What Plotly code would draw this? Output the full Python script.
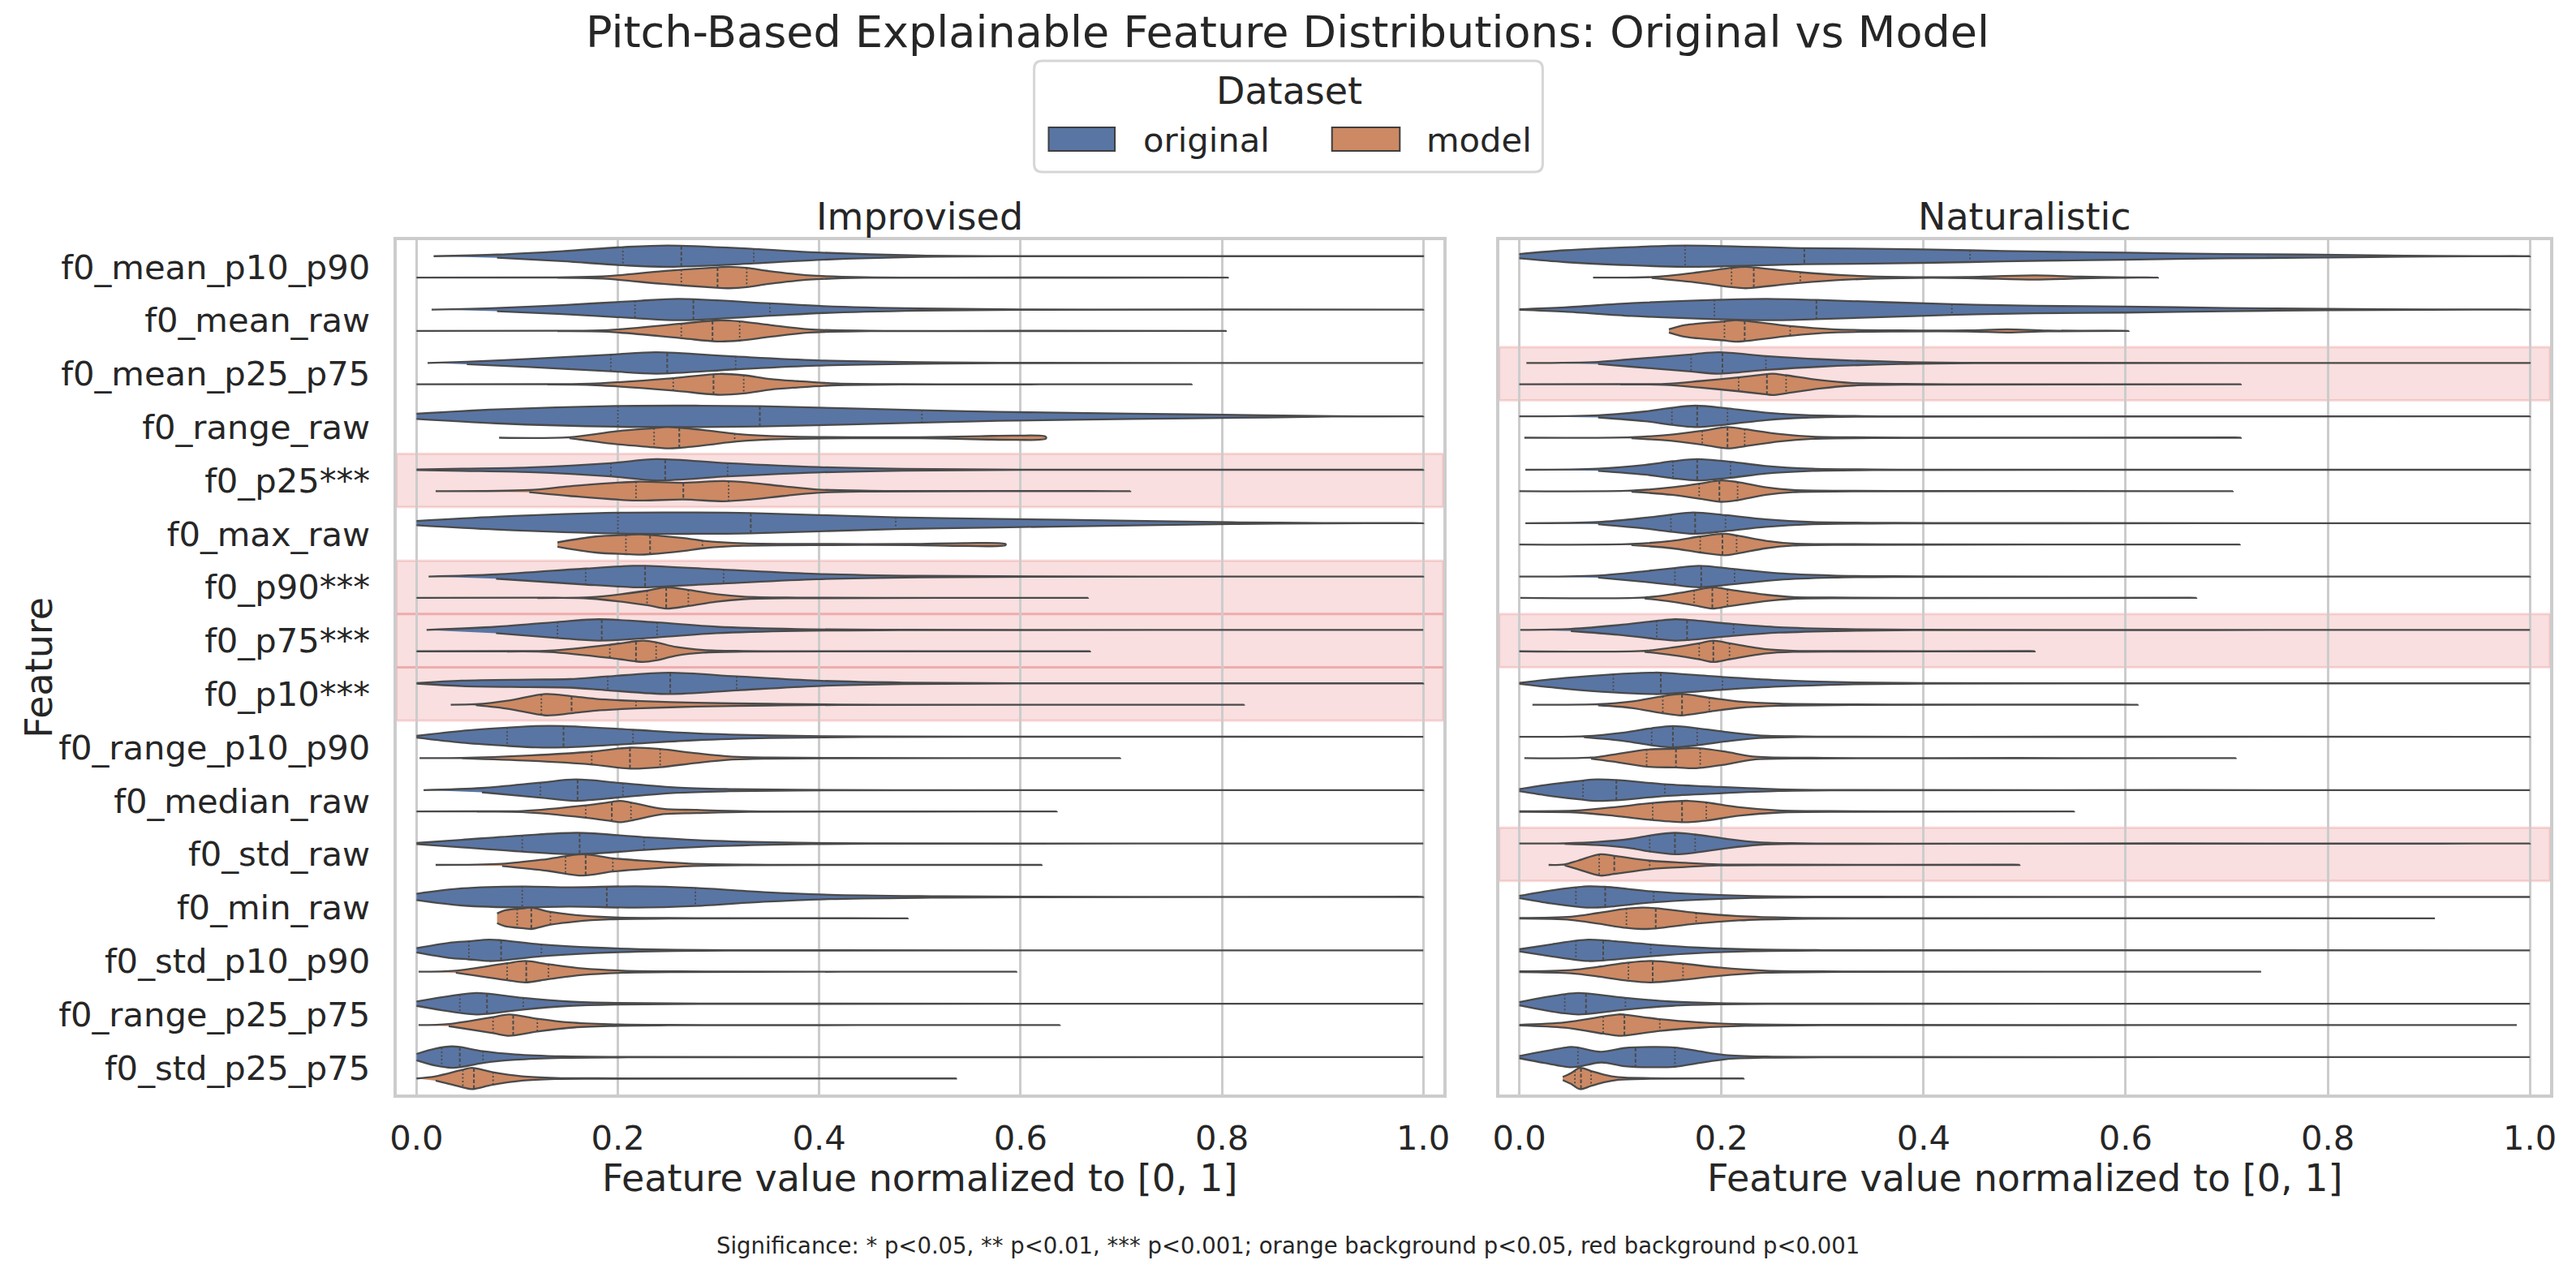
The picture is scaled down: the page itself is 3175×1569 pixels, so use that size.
import numpy as np
import plotly.graph_objects as go

# ---------------- data ----------------
FEATURES = ["f0_mean_p10_p90", "f0_mean_raw", "f0_mean_p25_p75", "f0_range_raw",
            "f0_p25***", "f0_max_raw", "f0_p90***", "f0_p75***", "f0_p10***",
            "f0_range_p10_p90", "f0_median_raw", "f0_std_raw", "f0_min_raw",
            "f0_std_p10_p90", "f0_range_p25_p75", "f0_std_p25_p75"]

# rows with p<0.001 background (index into FEATURES)
SIG_ROWS_IMPROVISED = [4, 6, 7, 8]
SIG_ROWS_NATURALISTIC = [2, 7, 11]

X_TICKS = [0.0, 0.2, 0.4, 0.6, 0.8, 1.0]
X_TICK_LABELS = ["0.0", "0.2", "0.4", "0.6", "0.8", "1.0"]

# Violin outlines: knot positions (x) and relative half widths (w)
# plus quartiles [q1, median, q3]
IMP_ORIG_X = [
    [0.017, 0.08, 0.145, 0.205, 0.25, 0.335, 0.398, 0.5, 0.6, 1.0],
    [0.015, 0.08, 0.145, 0.217, 0.26, 0.351, 0.405, 0.5, 0.6, 1.0],
    [0.011, 0.05, 0.112, 0.193, 0.238, 0.317, 0.398, 0.5, 0.58, 1.0],
    [0.0, 0.079, 0.198, 0.278, 0.341, 0.502, 0.578, 0.711, 0.844, 0.91, 1.0],
    [0.0, 0.045, 0.112, 0.193, 0.238, 0.309, 0.398, 0.484, 0.6, 1.0],
    [0.0, 0.079, 0.2, 0.278, 0.332, 0.476, 0.578, 0.711, 0.81, 0.9, 1.0],
    [0.012, 0.079, 0.168, 0.215, 0.227, 0.305, 0.398, 0.5, 0.62, 1.0],
    [0.01, 0.079, 0.14, 0.181, 0.239, 0.298, 0.378, 0.48, 1.0],
    [0.0, 0.045, 0.112, 0.152, 0.19, 0.251, 0.318, 0.398, 0.484, 0.6, 1.0],
    [0.0, 0.045, 0.09, 0.118, 0.146, 0.215, 0.278, 0.351, 0.444, 0.55, 1.0],
    [0.007, 0.065, 0.123, 0.158, 0.205, 0.258, 0.311, 0.378, 1.0],
    [0.0, 0.045, 0.105, 0.16, 0.226, 0.298, 0.378, 0.45, 1.0],
    [0.0, 0.045, 0.105, 0.152, 0.218, 0.277, 0.345, 0.411, 0.511, 0.6, 1.0],
    [0.0, 0.032, 0.052, 0.072, 0.084, 0.124, 0.178, 0.245, 0.31, 1.0],
    [0.0, 0.025, 0.043, 0.059, 0.07, 0.106, 0.152, 0.198, 0.28, 1.0],
    [0.0, 0.019, 0.035, 0.043, 0.066, 0.098, 0.145, 0.21, 1.0],
]
IMP_ORIG_W = [
    [0, 0.15, 0.47, 0.85, 1.0, 0.68, 0.35, 0.07, 0.01, 0],
    [0, 0.15, 0.42, 0.8, 1.0, 0.58, 0.32, 0.1, 0.015, 0],
    [0, 0.12, 0.38, 0.78, 1.0, 0.6, 0.25, 0.07, 0.015, 0],
    [0.25, 0.65, 0.97, 1.0, 0.95, 0.58, 0.42, 0.25, 0.1, 0.02, 0],
    [0.02, 0.1, 0.22, 0.62, 1.0, 0.62, 0.25, 0.08, 0.015, 0],
    [0.2, 0.6, 0.98, 1.0, 0.95, 0.55, 0.4, 0.22, 0.08, 0.02, 0],
    [0, 0.2, 0.75, 1.0, 1.0, 0.65, 0.25, 0.07, 0.015, 0],
    [0, 0.3, 0.75, 1.0, 0.7, 0.3, 0.08, 0.02, 0],
    [0.02, 0.25, 0.35, 0.4, 0.65, 1.0, 0.65, 0.25, 0.07, 0.015, 0],
    [0.08, 0.55, 0.85, 1.0, 1.0, 0.65, 0.32, 0.12, 0.03, 0.01, 0],
    [0, 0.2, 0.7, 1.0, 0.65, 0.25, 0.1, 0.03, 0],
    [0.05, 0.35, 0.75, 1.0, 0.6, 0.25, 0.07, 0.02, 0],
    [0.3, 0.8, 0.98, 0.9, 1.0, 0.85, 0.45, 0.2, 0.07, 0.02, 0],
    [0.2, 0.7, 0.85, 1.0, 0.95, 0.55, 0.25, 0.07, 0.02, 0],
    [0.2, 0.6, 0.85, 1.0, 0.95, 0.55, 0.2, 0.07, 0.02, 0],
    [0.3, 0.8, 1.0, 0.95, 0.55, 0.25, 0.07, 0.02, 0],
]
IMP_ORIG_Q = [
    [0.205, 0.263, 0.335], [0.217, 0.275, 0.351], [0.193, 0.249, 0.317], [0.2, 0.341, 0.502],
    [0.193, 0.247, 0.309], [0.2, 0.332, 0.476], [0.168, 0.227, 0.305], [0.14, 0.184, 0.239],
    [0.19, 0.252, 0.318], [0.09, 0.146, 0.215], [0.123, 0.16, 0.205], [0.105, 0.162, 0.226],
    [0.105, 0.189, 0.277], [0.052, 0.084, 0.124], [0.043, 0.07, 0.106], [0.025, 0.043, 0.066],
]

IMP_MODEL_X = [
    [0.0, 0.14, 0.185, 0.245, 0.298, 0.311, 0.328, 0.35, 0.39, 0.445, 0.806],
    [0.0, 0.14, 0.19, 0.263, 0.298, 0.321, 0.351, 0.39, 0.45, 0.804],
    [0.0, 0.13, 0.178, 0.255, 0.301, 0.325, 0.351, 0.378, 0.418, 0.48, 0.77],
    [0.082, 0.152, 0.198, 0.236, 0.248, 0.261, 0.291, 0.318, 0.365, 0.444, 0.5, 0.56, 0.595, 0.625],
    [0.019, 0.112, 0.152, 0.218, 0.265, 0.305, 0.331, 0.365, 0.398, 0.45, 0.709],
    [0.14, 0.178, 0.208, 0.222, 0.232, 0.265, 0.285, 0.325, 0.411, 0.49, 0.545, 0.585],
    [0.0, 0.12, 0.172, 0.229, 0.248, 0.27, 0.298, 0.325, 0.378, 0.667],
    [0.0, 0.09, 0.132, 0.192, 0.218, 0.225, 0.238, 0.258, 0.285, 0.325, 0.669],
    [0.034, 0.059, 0.092, 0.128, 0.154, 0.178, 0.218, 0.278, 0.351, 0.42, 0.822],
    [0.003, 0.045, 0.112, 0.174, 0.212, 0.242, 0.278, 0.311, 0.351, 0.42, 0.699],
    [0.0, 0.06, 0.105, 0.168, 0.194, 0.202, 0.213, 0.245, 0.278, 0.33, 0.636],
    [0.019, 0.085, 0.13, 0.165, 0.195, 0.232, 0.271, 0.33, 0.621],
    [0.08, 0.088, 0.108, 0.114, 0.133, 0.158, 0.192, 0.25, 0.488],
    [0.002, 0.039, 0.09, 0.108, 0.131, 0.165, 0.205, 0.26, 0.596],
    [0.002, 0.032, 0.076, 0.092, 0.12, 0.152, 0.192, 0.25, 0.639],
    [0.0, 0.019, 0.045, 0.055, 0.075, 0.105, 0.138, 0.18, 0.536],
]
IMP_MODEL_W = [
    [0, 0.02, 0.1, 0.6, 0.95, 1.0, 0.9, 0.6, 0.2, 0.03, 0],
    [0, 0.02, 0.08, 0.68, 0.98, 0.9, 0.55, 0.15, 0.02, 0],
    [0, 0.02, 0.08, 0.58, 0.98, 0.85, 0.5, 0.3, 0.08, 0.02, 0],
    [0, 0.05, 0.6, 0.9, 1.0, 0.95, 0.65, 0.35, 0.12, 0.05, 0.05, 0.15, 0.2, 0.1],
    [0, 0.1, 0.45, 0.88, 0.78, 0.95, 0.8, 0.45, 0.15, 0.04, 0],
    [0.2, 0.75, 0.9, 0.95, 0.9, 0.6, 0.35, 0.12, 0.05, 0.05, 0.14, 0.06],
    [0, 0.02, 0.06, 0.68, 1.0, 0.75, 0.35, 0.12, 0.03, 0],
    [0, 0.02, 0.06, 0.62, 0.95, 1.0, 0.85, 0.4, 0.12, 0.03, 0],
    [0, 0.05, 0.4, 1.0, 0.8, 0.55, 0.35, 0.18, 0.08, 0.02, 0],
    [0, 0.02, 0.25, 0.6, 0.98, 0.85, 0.45, 0.15, 0.05, 0.015, 0],
    [0, 0.02, 0.05, 0.58, 0.9, 1.0, 0.85, 0.25, 0.15, 0.03, 0],
    [0, 0.1, 0.55, 1.0, 0.62, 0.35, 0.12, 0.03, 0],
    [0.45, 0.75, 0.95, 1.0, 0.6, 0.3, 0.1, 0.03, 0],
    [0, 0.1, 0.8, 1.0, 0.7, 0.3, 0.1, 0.03, 0],
    [0, 0.1, 0.75, 1.0, 0.6, 0.25, 0.08, 0.02, 0],
    [0, 0.2, 0.8, 1.0, 0.6, 0.2, 0.05, 0.02, 0],
]
IMP_MODEL_Q = [
    [0.263, 0.299, 0.328], [0.263, 0.294, 0.321], [0.255, 0.295, 0.325], [0.236, 0.261, 0.316],
    [0.218, 0.265, 0.31], [0.208, 0.232, 0.284], [0.229, 0.248, 0.27], [0.192, 0.218, 0.238],
    [0.124, 0.154, 0.218], [0.174, 0.212, 0.242], [0.168, 0.194, 0.213], [0.148, 0.168, 0.195],
    [0.1, 0.114, 0.133], [0.09, 0.109, 0.131], [0.076, 0.096, 0.12], [0.046, 0.057, 0.076],
]

NAT_ORIG_X = [
    [0.0, 0.045, 0.111, 0.164, 0.282, 0.35, 0.446, 0.52, 0.6, 0.7, 0.776, 0.876, 0.95, 1.0],
    [0.0, 0.045, 0.111, 0.193, 0.244, 0.294, 0.428, 0.51, 0.6, 0.7, 0.8, 0.9, 1.0],
    [0.007, 0.078, 0.111, 0.17, 0.197, 0.244, 0.297, 0.377, 0.45, 1.0],
    [0.0, 0.078, 0.124, 0.151, 0.174, 0.206, 0.244, 0.284, 0.34, 1.0],
    [0.006, 0.078, 0.124, 0.152, 0.176, 0.209, 0.244, 0.29, 0.35, 1.0],
    [0.006, 0.078, 0.124, 0.15, 0.172, 0.204, 0.244, 0.29, 0.37, 1.0],
    [0.0, 0.078, 0.124, 0.154, 0.178, 0.213, 0.257, 0.31, 0.37, 1.0],
    [0.001, 0.051, 0.098, 0.136, 0.154, 0.166, 0.212, 0.257, 0.324, 0.39, 1.0],
    [0.0, 0.045, 0.093, 0.131, 0.14, 0.201, 0.257, 0.324, 0.4, 1.0],
    [0.0, 0.064, 0.104, 0.131, 0.152, 0.176, 0.204, 0.237, 0.28, 1.0],
    [0.0, 0.031, 0.063, 0.076, 0.096, 0.144, 0.197, 0.257, 0.31, 1.0],
    [0.0, 0.045, 0.078, 0.111, 0.129, 0.154, 0.174, 0.204, 0.237, 0.28, 1.0],
    [0.0, 0.031, 0.056, 0.068, 0.085, 0.133, 0.178, 0.231, 0.3, 1.0],
    [0.0, 0.031, 0.056, 0.068, 0.083, 0.13, 0.178, 0.231, 0.3, 1.0],
    [0.0, 0.025, 0.045, 0.058, 0.066, 0.105, 0.151, 0.197, 0.26, 1.0],
    [0.0, 0.025, 0.051, 0.058, 0.081, 0.104, 0.131, 0.154, 0.178, 0.204, 0.244, 0.3, 1.0],
]
NAT_ORIG_W = [
    [0.2, 0.55, 0.85, 1.0, 0.75, 0.7, 0.55, 0.42, 0.33, 0.2, 0.15, 0.05, 0.01, 0],
    [0.03, 0.2, 0.6, 0.9, 1.0, 0.9, 0.5, 0.35, 0.28, 0.15, 0.06, 0.02, 0],
    [0, 0.1, 0.35, 0.8, 1.0, 0.65, 0.35, 0.1, 0.02, 0],
    [0, 0.1, 0.45, 0.8, 1.0, 0.75, 0.35, 0.12, 0.03, 0],
    [0, 0.1, 0.45, 0.8, 1.0, 0.75, 0.35, 0.1, 0.03, 0],
    [0, 0.1, 0.5, 0.8, 1.0, 0.75, 0.35, 0.1, 0.03, 0],
    [0, 0.1, 0.5, 0.8, 1.0, 0.7, 0.3, 0.1, 0.03, 0],
    [0, 0.1, 0.45, 0.85, 1.0, 0.95, 0.55, 0.25, 0.08, 0.02, 0],
    [0.05, 0.5, 0.85, 1.0, 1.0, 0.6, 0.3, 0.1, 0.02, 0],
    [0, 0.05, 0.4, 0.8, 1.0, 0.8, 0.45, 0.12, 0.03, 0],
    [0.1, 0.55, 0.9, 1.0, 0.95, 0.55, 0.3, 0.08, 0.02, 0],
    [0, 0.03, 0.15, 0.45, 0.75, 1.0, 0.85, 0.45, 0.12, 0.03, 0],
    [0.1, 0.6, 0.9, 1.0, 0.95, 0.5, 0.25, 0.08, 0.02, 0],
    [0.1, 0.55, 0.9, 1.0, 0.95, 0.55, 0.25, 0.08, 0.02, 0],
    [0.15, 0.6, 0.9, 1.0, 0.97, 0.55, 0.2, 0.06, 0.02, 0],
    [0.1, 0.55, 0.95, 0.9, 0.5, 0.85, 0.95, 0.9, 0.55, 0.2, 0.05, 0.02, 0],
]
NAT_ORIG_Q = [
    [0.164, 0.282, 0.446], [0.193, 0.294, 0.428], [0.17, 0.201, 0.244], [0.151, 0.176, 0.206],
    [0.152, 0.176, 0.209], [0.15, 0.174, 0.204], [0.154, 0.18, 0.213], [0.136, 0.166, 0.212],
    [0.093, 0.14, 0.201], [0.131, 0.152, 0.176], [0.063, 0.096, 0.144], [0.129, 0.154, 0.174],
    [0.056, 0.085, 0.133], [0.056, 0.083, 0.13], [0.045, 0.066, 0.105], [0.058, 0.115, 0.154],
]

NAT_MODEL_X = [
    [0.073, 0.131, 0.178, 0.21, 0.224, 0.232, 0.278, 0.324, 0.377, 0.443, 0.51, 0.556, 0.6, 0.632],
    [0.148, 0.164, 0.203, 0.214, 0.223, 0.268, 0.31, 0.377, 0.443, 0.483, 0.523, 0.603],
    [0.0, 0.1, 0.144, 0.178, 0.217, 0.245, 0.251, 0.264, 0.297, 0.33, 0.4, 0.714],
    [0.005, 0.111, 0.151, 0.181, 0.206, 0.223, 0.257, 0.29, 0.35, 0.714],
    [0.0, 0.111, 0.151, 0.178, 0.2, 0.216, 0.244, 0.271, 0.33, 0.706],
    [0.0, 0.111, 0.151, 0.179, 0.203, 0.215, 0.244, 0.271, 0.33, 0.713],
    [0.001, 0.124, 0.151, 0.173, 0.191, 0.206, 0.244, 0.271, 0.33, 0.67],
    [0.0, 0.124, 0.151, 0.178, 0.192, 0.208, 0.244, 0.271, 0.33, 0.51],
    [0.013, 0.078, 0.111, 0.142, 0.16, 0.188, 0.217, 0.257, 0.33, 0.612],
    [0.005, 0.071, 0.091, 0.126, 0.155, 0.175, 0.204, 0.231, 0.29, 0.709],
    [0.0, 0.058, 0.098, 0.132, 0.167, 0.185, 0.217, 0.257, 0.33, 0.549],
    [0.029, 0.045, 0.058, 0.08, 0.094, 0.129, 0.164, 0.197, 0.26, 0.495],
    [0.0, 0.051, 0.078, 0.106, 0.121, 0.135, 0.175, 0.217, 0.271, 0.36, 0.906],
    [0.0, 0.051, 0.078, 0.108, 0.131, 0.162, 0.197, 0.244, 0.32, 0.734],
    [0.0, 0.045, 0.083, 0.098, 0.104, 0.139, 0.178, 0.224, 0.3, 0.987],
    [0.043, 0.051, 0.06, 0.071, 0.084, 0.098, 0.13, 0.222],
]
NAT_MODEL_W = [
    [0, 0.05, 0.5, 0.9, 1.0, 0.95, 0.5, 0.2, 0.05, 0.05, 0.2, 0.08, 0.02, 0],
    [0.15, 0.55, 0.9, 1.0, 0.95, 0.45, 0.15, 0.05, 0.05, 0.15, 0.04, 0],
    [0, 0.02, 0.05, 0.3, 0.65, 0.95, 1.0, 0.85, 0.4, 0.12, 0.03, 0],
    [0, 0.05, 0.3, 0.65, 1.0, 0.8, 0.35, 0.1, 0.03, 0],
    [0, 0.05, 0.35, 0.7, 1.0, 0.85, 0.35, 0.1, 0.03, 0],
    [0, 0.05, 0.35, 0.75, 1.0, 0.85, 0.35, 0.1, 0.03, 0],
    [0, 0.05, 0.35, 0.7, 1.0, 0.8, 0.3, 0.08, 0.03, 0],
    [0, 0.05, 0.35, 0.75, 1.0, 0.75, 0.2, 0.05, 0.02, 0],
    [0, 0.05, 0.3, 0.8, 1.0, 0.65, 0.3, 0.1, 0.03, 0],
    [0, 0.05, 0.3, 0.8, 0.88, 0.95, 0.6, 0.15, 0.03, 0],
    [0.03, 0.1, 0.45, 0.8, 1.0, 0.85, 0.4, 0.1, 0.03, 0],
    [0, 0.05, 0.4, 1.0, 0.85, 0.4, 0.2, 0.05, 0.02, 0],
    [0.03, 0.15, 0.5, 0.9, 1.0, 0.95, 0.5, 0.2, 0.05, 0.02, 0],
    [0.03, 0.15, 0.45, 0.85, 1.0, 0.75, 0.4, 0.1, 0.02, 0],
    [0.03, 0.25, 0.8, 1.0, 0.98, 0.55, 0.25, 0.07, 0.02, 0],
    [0.15, 0.5, 1.0, 0.7, 0.35, 0.12, 0.03, 0],
]
NAT_MODEL_Q = [
    [0.21, 0.232, 0.278], [0.203, 0.223, 0.268], [0.217, 0.245, 0.264], [0.181, 0.206, 0.223],
    [0.178, 0.198, 0.216], [0.179, 0.201, 0.215], [0.173, 0.191, 0.206], [0.178, 0.192, 0.208],
    [0.142, 0.161, 0.188], [0.126, 0.155, 0.179], [0.132, 0.161, 0.185], [0.079, 0.094, 0.129],
    [0.106, 0.135, 0.175], [0.108, 0.132, 0.162], [0.083, 0.104, 0.139], [0.055, 0.061, 0.071],
]

# ---------------- style ----------------
W, H = 3175, 1569
BLUE = "#5975a4"
ORANGE = "#cc8963"
EDGE = "#4a4a4a"
TEXT = "#262626"
FONT = "DejaVu Sans"
HALF = 0.2       # max half width of one violin (category units)
OFFSET = 0.2     # dodge offset

L_DOM = [483 / W, 1780 / W]
R_DOM = [1849 / W, 3151 / W]
Y_DOM = [1 - 1349 / H, 1 - 296 / H]


def px(x):
    return x / W


def py(y):
    return 1 - y / H


fig = go.Figure()


def add_violin(xs, ws, yc, color, xa, ya):
    xs = list(xs)
    ws = list(ws)
    ux = xs
    uy = [yc - HALF * w for w in ws]
    lx, ly = [], []
    n = len(xs)
    for i in range(n - 1, -1, -1):
        if ws[i] == 0 and (i == n - 1 or i == 0):
            continue
        lx.append(xs[i])
        ly.append(yc + HALF * ws[i])
    fig.add_trace(go.Scatter(
        x=ux + lx, y=uy + ly, mode="lines", fill="toself", fillcolor=color,
        line=dict(color=EDGE, width=2.3, shape="spline", smoothing=0.9),
        xaxis=xa, yaxis=ya, showlegend=False, hoverinfo="skip"))


def quart_lines(xs_all, ws_all, qs_all, offset, med_x, med_y, q_x, q_y):
    for i in range(len(qs_all)):
        yc = i + offset
        for k, q in enumerate(qs_all[i]):
            h = HALF * float(np.interp(q, xs_all[i], ws_all[i]))
            if k == 1:
                med_x += [q, q, None]
                med_y += [yc - h, yc + h, None]
            else:
                q_x += [q, q, None]
                q_y += [yc - h, yc + h, None]


panels = [
    ("x", "y", IMP_ORIG_X, IMP_ORIG_W, IMP_ORIG_Q, IMP_MODEL_X, IMP_MODEL_W, IMP_MODEL_Q),
    ("x2", "y2", NAT_ORIG_X, NAT_ORIG_W, NAT_ORIG_Q, NAT_MODEL_X, NAT_MODEL_W, NAT_MODEL_Q),
]

for xa, ya, ox, ow, oq, mx, mw, mq in panels:
    for i in range(len(FEATURES)):
        add_violin(ox[i], ow[i], i - OFFSET, BLUE, xa, ya)
        add_violin(mx[i], mw[i], i + OFFSET, ORANGE, xa, ya)
    med_x, med_y, q_x, q_y = [], [], [], []
    quart_lines(ox, ow, oq, -OFFSET, med_x, med_y, q_x, q_y)
    quart_lines(mx, mw, mq, OFFSET, med_x, med_y, q_x, q_y)
    fig.add_trace(go.Scatter(x=q_x, y=q_y, mode="lines",
                             line=dict(color=EDGE, width=1.8, dash="2px,2.5px"),
                             xaxis=xa, yaxis=ya, showlegend=False, hoverinfo="skip"))
    fig.add_trace(go.Scatter(x=med_x, y=med_y, mode="lines",
                             line=dict(color=EDGE, width=2, dash="4.5px,2.5px"),
                             xaxis=xa, yaxis=ya, showlegend=False, hoverinfo="skip"))

# significance backgrounds
shapes = []
for xref, yref, rows in (("x domain", "y", SIG_ROWS_IMPROVISED), ("x2 domain", "y2", SIG_ROWS_NATURALISTIC)):
    for r in rows:
        shapes.append(dict(type="rect", xref=xref, yref=yref, x0=0, x1=1,
                           y0=r - 0.5, y1=r + 0.5, layer="below",
                           fillcolor="rgba(214,39,40,0.15)",
                           line=dict(color="rgba(214,39,40,0.15)", width=3)))

# legend (drawn manually to match matplotlib style)
lx0, lx1, ly0, ly1, rad = 1273, 1903, 75, 212, 10
rx, ry = rad / W, rad / H
X0, X1, Y0, Y1 = px(lx0), px(lx1), py(ly1), py(ly0)
path = (f"M {X0+rx},{Y0} L {X1-rx},{Y0} Q {X1},{Y0} {X1},{Y0+ry} L {X1},{Y1-ry} "
        f"Q {X1},{Y1} {X1-rx},{Y1} L {X0+rx},{Y1} Q {X0},{Y1} {X0},{Y1-ry} "
        f"L {X0},{Y0+ry} Q {X0},{Y0} {X0+rx},{Y0} Z")
shapes.append(dict(type="path", xref="paper", yref="paper", path=path,
                   fillcolor="white", line=dict(color="#d6d6d6", width=3)))
for (a, b, col) in ((1291, 1373, BLUE), (1642, 1726, ORANGE)):
    shapes.append(dict(type="rect", xref="paper", yref="paper",
                       x0=px(a), x1=px(b), y0=py(186), y1=py(157),
                       fillcolor=col, line=dict(color="#3f3f3f", width=2)))

annotations = []


def ann(text, x, y, size, xanchor="center", yanchor="middle", angle=0):
    annotations.append(dict(text=text, x=px(x), y=py(y), xref="paper", yref="paper",
                            showarrow=False, xanchor=xanchor, yanchor=yanchor,
                            textangle=angle, font=dict(family=FONT, size=size, color=TEXT)))


ann("Pitch-Based Explainable Feature Distributions: Original vs Model", 1587, 40, 54)
ann("Dataset", 1589, 112, 46)
ann("original", 1406, 172, 41.7, xanchor="left")
ann("model", 1757, 172, 41.7, xanchor="left")
ann("Improvised", 1131, 267, 46)
ann("Naturalistic", 2500, 267, 46)
ann("Feature value normalized to [0, 1]", 1131, 1452, 46)
ann("Feature value normalized to [0, 1]", 2500, 1452, 46)
ann("Feature", 40, 823, 46, angle=-90)
ann("Significance: * p<0.05, ** p<0.01, *** p<0.001; orange background p<0.05, red background p<0.001",
    1588, 1535, 27.5)

xaxis_common = dict(range=[-0.02, 1.02], tickvals=X_TICKS, ticktext=X_TICK_LABELS,
                    showgrid=True, gridcolor="#cccccc", gridwidth=3, zeroline=False,
                    showline=True, mirror=True, linecolor="#cccccc", linewidth=4,
                    ticks="outside", ticklen=14, tickcolor="rgba(0,0,0,0)",
                    tickfont=dict(family=FONT, size=41.7, color=TEXT))
yaxis_common = dict(range=[len(FEATURES) - 0.5, -0.5], domain=Y_DOM,
                    tickvals=list(range(len(FEATURES))), ticktext=FEATURES,
                    showgrid=False, zeroline=False,
                    showline=True, mirror=True, linecolor="#cccccc", linewidth=4,
                    ticks="outside", ticklen=20, tickcolor="rgba(0,0,0,0)",
                    tickfont=dict(family=FONT, size=41.7, color=TEXT))

fig.update_layout(
    width=W, height=H, autosize=False,
    margin=dict(l=0, r=0, t=0, b=0),
    paper_bgcolor="white", plot_bgcolor="white",
    showlegend=False,
    xaxis=dict(domain=L_DOM, anchor="y", **xaxis_common),
    xaxis2=dict(domain=R_DOM, anchor="y2", **xaxis_common),
    yaxis=dict(anchor="x", **yaxis_common),
    yaxis2=dict(anchor="x2", showticklabels=False, **yaxis_common),
    shapes=shapes,
    annotations=annotations,
)

fig.write_html("out.html")
